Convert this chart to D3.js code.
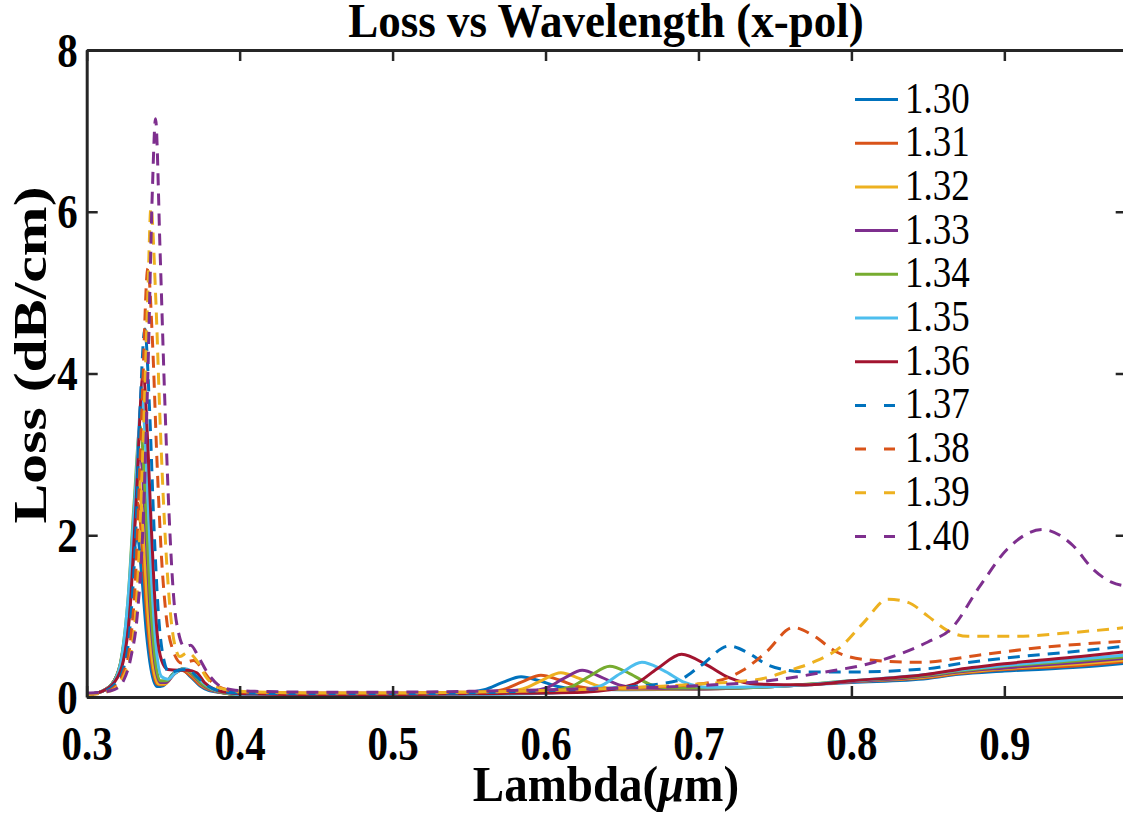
<!DOCTYPE html>
<html>
<head>
<meta charset="utf-8">
<script src="https://cdn.jsdelivr.net/npm/d3@7"></script>
<style>
  body { margin: 0; background: #fff; }
  svg { display: block; }
</style>
</head>
<body>
<svg id="lossChart"></svg>
<script>
/*
  Loss vs Wavelength (x-pol)
  one curve per index value, 1.30 ... 1.40
*/

//////////////////////////////////DATA//////////////////////////////////

let seriesNames = ['1.30', '1.31', '1.32', '1.33', '1.34', '1.35', '1.36', '1.37', '1.38', '1.39', '1.40'];
let xTicks = [0.3, 0.4, 0.5, 0.6, 0.7, 0.8, 0.9];
let yTicks = [0, 2, 4, 6, 8];

// [lambda (um), loss (dB/cm)]
let n130 = [[0.300,0.03],[0.310,0.07],[0.318,0.2],[0.323,0.45],[0.327,0.9],[0.330,1.6],[0.333,2.0],[0.336,1.5],[0.339,0.8],[0.342,0.35],[0.346,0.13],[0.350,0.14],[0.356,0.28],[0.362,0.34],[0.368,0.25],[0.374,0.14],[0.380,0.08],[0.390,0.05],[0.400,0.03],[0.450,0.02],[0.500,0.02],[0.540,0.04],[0.560,0.09],[0.572,0.18],[0.584,0.25],[0.596,0.2],[0.608,0.13],[0.620,0.1],[0.650,0.09],[0.700,0.1],[0.750,0.13],[0.800,0.18],[0.850,0.23],[0.870,0.28],[0.900,0.32],[0.950,0.37],[0.980,0.42]];
let n131 = [[0.300,0.03],[0.310,0.07],[0.318,0.2],[0.323,0.48],[0.327,1.0],[0.330,1.8],[0.3335,2.4],[0.3365,1.8],[0.3395,0.95],[0.3425,0.42],[0.346,0.16],[0.350,0.15],[0.356,0.27],[0.362,0.33],[0.368,0.26],[0.374,0.15],[0.380,0.09],[0.390,0.05],[0.400,0.03],[0.450,0.02],[0.500,0.02],[0.550,0.04],[0.572,0.09],[0.585,0.19],[0.597,0.27],[0.609,0.21],[0.621,0.13],[0.635,0.1],[0.680,0.1],[0.750,0.13],[0.800,0.19],[0.850,0.24],[0.870,0.29],[0.900,0.34],[0.950,0.39],[0.980,0.44]];
let n132 = [[0.300,0.03],[0.310,0.07],[0.318,0.2],[0.323,0.5],[0.327,1.1],[0.331,2.1],[0.334,2.7],[0.337,2.0],[0.340,1.05],[0.343,0.45],[0.347,0.16],[0.351,0.16],[0.357,0.28],[0.363,0.34],[0.369,0.27],[0.375,0.15],[0.381,0.09],[0.390,0.05],[0.400,0.03],[0.450,0.02],[0.500,0.02],[0.560,0.04],[0.585,0.1],[0.598,0.21],[0.610,0.3],[0.622,0.23],[0.634,0.14],[0.648,0.1],[0.700,0.1],[0.750,0.13],[0.800,0.19],[0.850,0.25],[0.870,0.3],[0.900,0.35],[0.950,0.41],[0.980,0.46]];
let n133 = [[0.300,0.03],[0.310,0.07],[0.318,0.2],[0.323,0.5],[0.327,1.1],[0.331,2.2],[0.335,3.0],[0.338,2.3],[0.341,1.2],[0.344,0.5],[0.348,0.18],[0.352,0.18],[0.357,0.28],[0.363,0.35],[0.369,0.28],[0.375,0.16],[0.381,0.09],[0.390,0.05],[0.400,0.03],[0.450,0.02],[0.500,0.02],[0.575,0.04],[0.600,0.11],[0.612,0.23],[0.624,0.33],[0.636,0.25],[0.648,0.15],[0.662,0.11],[0.700,0.1],[0.750,0.13],[0.800,0.19],[0.850,0.26],[0.870,0.31],[0.900,0.36],[0.950,0.43],[0.980,0.48]];
let n134 = [[0.300,0.03],[0.310,0.07],[0.318,0.2],[0.323,0.52],[0.327,1.2],[0.331,2.4],[0.335,3.35],[0.338,2.6],[0.341,1.4],[0.344,0.6],[0.348,0.2],[0.352,0.2],[0.357,0.29],[0.363,0.35],[0.369,0.29],[0.375,0.17],[0.381,0.1],[0.390,0.05],[0.400,0.03],[0.450,0.02],[0.500,0.02],[0.590,0.05],[0.616,0.12],[0.629,0.26],[0.642,0.38],[0.655,0.29],[0.668,0.16],[0.682,0.11],[0.720,0.11],[0.750,0.13],[0.800,0.2],[0.850,0.27],[0.870,0.32],[0.900,0.38],[0.950,0.45],[0.980,0.5]];
let n135 = [[0.300,0.03],[0.310,0.07],[0.318,0.19],[0.323,0.5],[0.327,1.2],[0.332,2.6],[0.336,3.7],[0.339,2.9],[0.342,1.6],[0.345,0.7],[0.349,0.25],[0.353,0.22],[0.358,0.3],[0.364,0.35],[0.370,0.3],[0.376,0.18],[0.382,0.1],[0.390,0.06],[0.400,0.03],[0.450,0.02],[0.500,0.02],[0.605,0.05],[0.635,0.13],[0.649,0.29],[0.663,0.43],[0.677,0.33],[0.691,0.18],[0.706,0.12],[0.750,0.13],[0.800,0.2],[0.850,0.28],[0.870,0.33],[0.900,0.39],[0.950,0.47],[0.980,0.52]];
let n136 = [[0.300,0.03],[0.310,0.07],[0.318,0.18],[0.324,0.45],[0.328,1.0],[0.332,2.3],[0.337,4.0],[0.340,3.1],[0.342,2.2],[0.344,1.4],[0.346,0.8],[0.349,0.45],[0.353,0.34],[0.360,0.33],[0.366,0.33],[0.372,0.3],[0.377,0.18],[0.383,0.1],[0.390,0.06],[0.400,0.04],[0.450,0.03],[0.500,0.03],[0.550,0.04],[0.625,0.06],[0.658,0.16],[0.673,0.35],[0.689,0.53],[0.705,0.4],[0.720,0.24],[0.738,0.16],[0.770,0.15],[0.800,0.2],[0.850,0.28],[0.870,0.34],[0.900,0.41],[0.950,0.5],[0.980,0.56]];
let n137 = [[0.300,0.03],[0.310,0.06],[0.318,0.15],[0.324,0.35],[0.328,0.8],[0.332,2.0],[0.335,3.6],[0.338,4.55],[0.341,3.6],[0.344,2.1],[0.347,1.0],[0.350,0.5],[0.354,0.3],[0.360,0.33],[0.366,0.34],[0.372,0.25],[0.378,0.15],[0.386,0.08],[0.400,0.05],[0.450,0.04],[0.500,0.04],[0.550,0.05],[0.600,0.08],[0.650,0.12],[0.686,0.2],[0.701,0.38],[0.720,0.63],[0.732,0.55],[0.745,0.4],[0.758,0.33],[0.770,0.31],[0.800,0.31],[0.850,0.35],[0.870,0.41],[0.900,0.48],[0.950,0.57],[0.980,0.63]];
let n138 = [[0.300,0.03],[0.310,0.05],[0.318,0.12],[0.324,0.3],[0.328,0.6],[0.332,1.5],[0.336,3.5],[0.340,5.3],[0.343,4.4],[0.346,2.9],[0.349,1.7],[0.352,1.0],[0.356,0.6],[0.362,0.42],[0.370,0.45],[0.376,0.33],[0.382,0.18],[0.390,0.1],[0.400,0.06],[0.450,0.05],[0.500,0.05],[0.550,0.06],[0.600,0.08],[0.650,0.11],[0.700,0.16],[0.729,0.33],[0.744,0.55],[0.762,0.86],[0.775,0.76],[0.790,0.56],[0.810,0.46],[0.845,0.43],[0.884,0.52],[0.928,0.62],[0.955,0.66],[0.980,0.69]];
let n139 = [[0.300,0.03],[0.310,0.05],[0.318,0.1],[0.324,0.25],[0.329,0.55],[0.333,1.3],[0.337,3.2],[0.340,5.0],[0.342,6.05],[0.345,5.0],[0.348,3.4],[0.351,2.1],[0.354,1.2],[0.357,0.7],[0.361,0.5],[0.366,0.55],[0.372,0.45],[0.378,0.25],[0.386,0.12],[0.400,0.07],[0.450,0.05],[0.500,0.05],[0.550,0.06],[0.600,0.08],[0.650,0.11],[0.700,0.16],[0.740,0.22],[0.758,0.32],[0.775,0.43],[0.793,0.62],[0.808,0.92],[0.824,1.21],[0.837,1.17],[0.850,1.0],[0.863,0.82],[0.876,0.75],[0.906,0.75],[0.940,0.79],[0.980,0.86]];
let n140 = [[0.300,0.05],[0.310,0.06],[0.318,0.09],[0.324,0.2],[0.329,0.5],[0.333,1.0],[0.337,2.2],[0.340,4.0],[0.343,6.3],[0.345,7.15],[0.348,5.5],[0.351,3.7],[0.354,2.2],[0.357,1.2],[0.360,0.8],[0.364,0.62],[0.368,0.64],[0.373,0.5],[0.379,0.3],[0.386,0.15],[0.395,0.09],[0.410,0.07],[0.450,0.06],[0.500,0.06],[0.550,0.07],[0.600,0.09],[0.650,0.11],[0.700,0.14],[0.754,0.22],[0.780,0.3],[0.815,0.43],[0.850,0.68],[0.865,0.84],[0.884,1.37],[0.902,1.83],[0.925,2.07],[0.945,1.87],[0.958,1.58],[0.970,1.42],[0.980,1.37]];

let seriesValues = [n130, n131, n132, n133, n134, n135, n136, n137, n138, n139, n140];

////////////////////////////////SETUP///////////////////////////////////

let W = 1123;
let H = 814;
let plotLeft = 86.7, plotRight = 1126.7, plotTop = 50, plotBottom = 697;
let matlabColors = ['#0072BD', '#D95319', '#EDB120', '#7E2F8E', '#77AC30', '#4DBEEE', '#A2142F',
                    '#0072BD', '#D95319', '#EDB120', '#7E2F8E'];
let axisColor = '#262626';
let serif = '"Liberation Serif", "Times New Roman", serif';
let stretch = 1.18;   // the text in the picture is a little taller than it is wide

let xScale = d3.scaleLinear().domain([0.3, 0.98]).range([plotLeft, plotRight]);
let yScale = d3.scaleLinear().domain([0, 8]).range([plotBottom, plotTop]);

let chart = d3.select('#lossChart')
  .attr('width', W)
  .attr('height', H);

chart.append('clipPath')
  .attr('id', 'plotClip')
  .append('rect')
  .attr('x', plotLeft)
  .attr('y', plotTop)
  .attr('width', plotRight - plotLeft)
  .attr('height', plotBottom - plotTop);

//LINES
let lineGen = d3.line()
  .x((d) => xScale(d[0]))
  .y((d) => yScale(d[1]))
  .curve(d3.curveMonotoneX);

chart.append('g')
  .attr('clip-path', 'url(#plotClip)')
  .selectAll('path')
  .data(seriesValues)
  .enter()
  .append('path')
  .attr('d', lineGen)
  .attr('fill', 'none')
  .attr('stroke', (d, i) => matlabColors[i])
  .attr('stroke-width', 3)
  .attr('stroke-dasharray', (d, i) => i >= 7 ? '12,8' : null)
  .attr('stroke-linejoin', 'round');

//AXES (ticks point inward on all four sides)
function styleAxis(g) {
  g.select('.domain').attr('stroke', axisColor).attr('stroke-width', 3);
  g.selectAll('.tick line').attr('stroke', axisColor).attr('stroke-width', 2.5);
  g.selectAll('.tick text')
    .attr('fill', '#000')
    .style('font-family', serif)
    .style('font-weight', 'bold')
    .style('font-size', '41px');
}

chart.append('g')
  .attr('transform', `translate(0, ${plotBottom})`)
  .call(d3.axisBottom(xScale).tickValues(xTicks).tickFormat(d3.format('.1f'))
    .tickSizeInner(-11).tickSizeOuter(0))
  .call(styleAxis)
  .selectAll('.tick text')
  .attr('y', 0)
  .attr('dy', null)
  .attr('transform', `translate(0, 63) scale(1, ${stretch})`);

chart.append('g')
  .attr('transform', `translate(0, ${plotTop})`)
  .call(d3.axisTop(xScale).tickValues(xTicks).tickFormat('')
    .tickSizeInner(-11).tickSizeOuter(0))
  .call(styleAxis);

chart.append('g')
  .attr('transform', `translate(${plotLeft}, 0)`)
  .call(d3.axisLeft(yScale).tickValues(yTicks).tickFormat(d3.format('d'))
    .tickSizeInner(-11).tickSizeOuter(0).tickPadding(9))
  .call(styleAxis)
  .selectAll('.tick text')
  .attr('y', 0)
  .attr('dy', null)
  .attr('transform', `translate(0, 16) scale(1, ${stretch})`);

chart.append('g')
  .attr('transform', `translate(${plotRight}, 0)`)
  .call(d3.axisRight(yScale).tickValues(yTicks).tickFormat('')
    .tickSizeInner(-11).tickSizeOuter(0))
  .call(styleAxis);

//TITLE + LABELS
chart.append('text')
  .attr('transform', `translate(606, 37) scale(1, 1.1)`)
  .attr('text-anchor', 'middle')
  .style('font-family', serif)
  .style('font-weight', 'bold')
  .style('font-size', '45px')
  .text('Loss vs Wavelength (x-pol)');

let xLabel = chart.append('text')
  .attr('transform', `translate(606, 801) scale(1, 1.08)`)
  .attr('text-anchor', 'middle')
  .style('font-family', serif)
  .style('font-weight', 'bold')
  .style('font-size', '47px');
xLabel.append('tspan').text('Lambda(');
xLabel.append('tspan').style('font-style', 'italic').text('\u03bc');
xLabel.append('tspan').text('m)');

// rotated, so the stretch runs along the text
chart.append('text')
  .attr('transform', 'translate(46, 355) rotate(-90) scale(1.3, 1)')
  .attr('text-anchor', 'middle')
  .style('font-family', serif)
  .style('font-weight', 'bold')
  .style('font-size', '46px')
  .text('Loss (dB/cm)');

//LEGEND (no box)
let legendY = d3.scalePoint().domain(seriesNames).range([99.5, 536.5]);

let legend = chart.append('g')
  .selectAll('g')
  .data(seriesNames)
  .enter()
  .append('g')
  .attr('transform', (d) => `translate(0, ${legendY(d)})`);

legend.append('line')
  .attr('x1', 855)
  .attr('x2', 898)
  .attr('stroke', (d, i) => matlabColors[i])
  .attr('stroke-width', 3)
  .attr('stroke-dasharray', (d, i) => i >= 7 ? '11,18' : null);

legend.append('text')
  .attr('transform', `translate(905, 13) scale(1, ${stretch})`)
  .style('font-family', serif)
  .style('font-size', '37px')
  .text((d) => d);
</script>
</body>
</html>
